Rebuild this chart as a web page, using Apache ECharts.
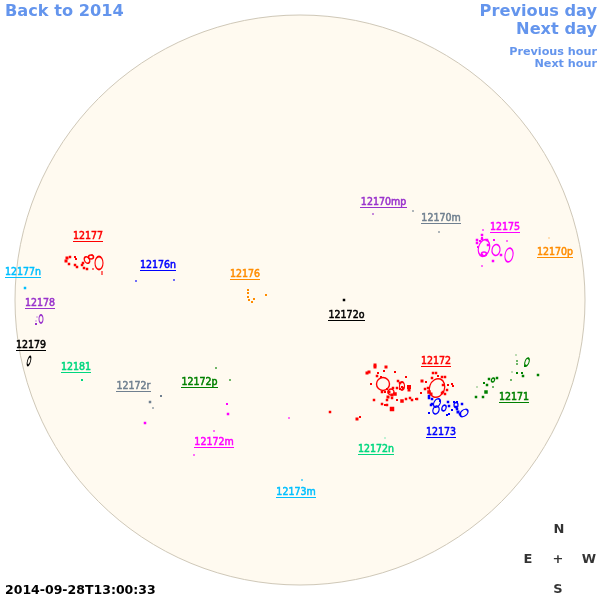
<!DOCTYPE html>
<html><head><meta charset="utf-8">
<style>html,body{margin:0;padding:0;background:#fff}#c{width:600px;height:600px}</style>
<script src="https://cdn.jsdelivr.net/npm/echarts@6/dist/echarts.min.js"></script>
</head><body><div id="c"></div>
<script>
// Active-region spots: [x, y, size]; loops: [x, y, width, height, angle]; labels: [name, left, right, underlineY]
const spots12172 = [[375,365,3],[375,367,3],[386,367,3],[384,371,2],[378,373,2],[367,373,3],[369,372,3],[377,376,2.5],[395,372,2],[406,377,2],[371,384,2],[381,377,2],[398,381,2.5],[400,383,2.5],[409,387,4],[409,390,3],[402,387,2],[393,388,2.5],[397,388,2.5],[400,389,2],[403,388,2.5],[387,389,2],[389,392,3],[382,392,2.5],[385,392,2],[395,394,3.5],[392,395,3],[388,397,3],[387,400,2.5],[392,398,2.5],[374,400,2.5],[397,400,2],[402,401,3.5],[406,399,2.5],[410,398,2.5],[412,400,2.5],[417,399,2.5],[382,404,2.5],[385,405,2],[387,405,2.5],[392,409,4.5],[357,419,3],[360,417,2],[330,412,2.5],[421,393,2],[433,373,2.5],[436,373,2.5],[438,376,2],[442,377,2.5],[445,377,2.5],[422,381,3],[426,382,2],[432,378,2.5],[443,385,2.5],[448,385,2],[452,384,2],[453,386,2],[428,388,2.5],[425,389,2.5],[429,392,3.5],[431,394,3],[443,392,2.5],[447,390,2.5],[442,393,2.5],[445,394,2.5],[416,399,2]];
const loops12172 = [[383,384,13,13,0],[437,388,15,19,-20],[391,392,6,6,0],[402,386,5,8,0]];
const spots12173 = [[429,398,2.5],[429,396,2.5],[432,399,2.5],[431,405,2.5],[429,413,2],[449,406,2.5],[449,414,2],[447,415,2],[454,402,2],[457,402,2],[462,404,2.5],[456,407,2.5],[457,409,2.5],[458,412,3],[460,414,2.5],[452,410,2],[440,401,2],[432,404,2.5],[448,402,2.5]];
const loops12173 = [[437,403,6,9,-30],[436,410,6,8,-20],[444,408,4,6,-20],[464,413,6,9,-50],[456,405,4,5,0]];
const spots12177 = [[66,261,3],[67,258,3],[70,257,2.5],[75,257,2],[76,259,2],[69,264,2.5],[75,265,2.5],[77,267,2.5],[83,263,2.5],[84,268,2.5],[82,265,2.5],[87,269,2.5],[92,255,1.5],[93,269,1.5],[102,272,1.5],[102,274,1.5]];
const loops12177 = [[99,263,8,13,0],[87,260,5,7,30],[91,257,5,4,0]];
const spots12177n = [[25,288,2.5]];
const spots12178 = [[36,324,2],[37,317,1],[36,321,1]];
const loops12178 = [[41,319,4,8,0]];
const loops12179 = [[29,361,3,9,-15]];
const spots12181 = [[82,380,2]];
const spots12175 = [[483,230,1.5],[482,235,2.5],[482,238,2],[487,240,2.5],[477,240,2.5],[477,243,2.5],[478,247,2],[482,239,2.5],[480,241,2],[494,240,2],[507,241,1.5],[488,245,2.5],[482,255,2.5],[493,261,2.5],[501,255,2.5],[482,266,1.5]];
const loops12175 = [[484,248,11,17,-15],[496,250,8,11,-10],[509,255,8,14,-10],[484,254,5,4,0]];
const spots12170p = [[549,238,1]];
const spots12176 = [[248,290,2],[248,293,2],[248,297,2],[249,300,2],[252,302,2],[254,299,2],[266,295,2]];
const spots12176n = [[136,281,1.5],[174,280,1.5]];
const spots12172o = [[344,300,2.5]];
const spots12170mp = [[373,214,1.5]];
const spots12170m = [[413,211,1.5],[439,232,1.5]];
const spots12171 = [[516,355,1],[517,361,1.5],[517,364,1.5],[525,366,2],[512,372,1],[517,373,2],[522,373,2],[523,376,2.5],[538,375,2.5],[511,380,1.5],[497,378,2.5],[489,379,2.5],[484,383,2],[487,385,2.5],[493,387,1.5],[477,387,1],[486,392,3.5],[483,397,2.5],[476,397,2.5]];
const loops12171 = [[527,362,4,8,-20],[493,380,3,4,-20]];
const spots12172r = [[161,396,2],[150,402,2.5],[153,408,1.5]];
const spots12172p = [[216,368,1.5],[230,380,1.5]];
const spots12172m = [[227,404,2],[228,414,2.5],[145,423,2.5],[214,431,1.5],[194,455,1.5],[289,418,1.5]];
const spots12173m = [[302,480,1.5]];
const spots12172n = [[385,438,1]];

const labelsRed = [['12172',421,451,366],['12177',73,103,241]];
const labelsBlue = [['12173',426,456,437],['12176n',140,176,270]];
const labelsGreen = [['12171',499,529,402],['12172p',181,218,387]];
const labelsMagenta = [['12175',490,520,232],['12172m',194,234,447]];
const labelsOrchid = [['12178',25,55,308],['12170mp',360,407,207]];
const labelsOrange = [['12170p',537,573,257],['12176',230,260,279]];
const labelsSlate = [['12170m',421,461,223],['12172r',116,151,391]];
const labelsSky = [['12177n',5,41,277],['12173m',276,316,497]];
const labelsSpring = [['12181',61,91,372],['12172n',358,394,454]];
const labelsBlack = [['12179',16,46,350],['12172o',328,365,320]];

const compass = [['N',559,530],['E',528,560],['+',558,560],['W',589,560],['S',558,590]];
const disk = [[300,300]];
const diskRadius = 285;
const link = '#6495ED';

const groups = [
  ['#FF0000', spots12172.concat(spots12177), loops12172.concat(loops12177), labelsRed],
  ['#0000FF', spots12173.concat(spots12176n), loops12173, labelsBlue],
  ['#008000', spots12171.concat(spots12172p), loops12171, labelsGreen],
  ['#FF00FF', spots12175.concat(spots12172m), loops12175, labelsMagenta],
  ['#9932CC', spots12178.concat(spots12170mp), loops12178, labelsOrchid],
  ['#FF8C00', spots12176.concat(spots12170p), [], labelsOrange],
  ['#708090', spots12172r.concat(spots12170m), [], labelsSlate],
  ['#00BFFF', spots12177n.concat(spots12173m), [], labelsSky],
  ['#00D77F', spots12181.concat(spots12172n), [], labelsSpring],
  ['#000000', spots12172o, loops12179, labelsBlack]
];

const series = [{
  type:'scatter', data:disk, symbol:'circle', symbolSize:diskRadius*2, silent:true, z:1,
  itemStyle:{color:'#FFFAF0',borderColor:'#CFC8B8',borderWidth:1,opacity:1}
}];
groups.forEach(([color,spots,loops,labels])=>{
  series.push({type:'scatter',data:spots,symbol:'rect',symbolSize:v=>v[2],z:3,silent:true,
    itemStyle:{color,opacity:1}});
  if(loops.length) series.push({type:'scatter',data:loops.map(l=>({value:l,symbolRotate:l[4]})),
    symbol:'circle',symbolSize:v=>[v[2],v[3]],z:3,silent:true,
    itemStyle:{color:'rgba(0,0,0,0)',borderColor:color,borderWidth:1.4,opacity:1}});
  series.push({type:'custom',z:4,silent:true,
    data:labels.map(l=>[l[1],l[3],l[2],l[0]]),
    encode:{x:[0,2],y:1},
    renderItem:(p,api)=>{
      const a=api.coord([api.value(0),api.value(1)]), b=api.coord([api.value(2),api.value(1)]);
      const cx=(a[0]+b[0])/2;
      return {type:'group',children:[
        {type:'text',x:cx,y:a[1]+0.5,scaleX:0.9,scaleY:1,
          style:{text:labels[p.dataIndex][0],x:0,y:0,align:'center',verticalAlign:'bottom',
          font:'normal 10.5px "DejaVu Sans"',fill:color,stroke:color,lineWidth:0.55}},
        {type:'rect',shape:{x:a[0],y:a[1],width:b[0]-a[0],height:1},style:{fill:color}}
      ]};
    }});
});
series.push({type:'scatter',data:compass.map(c=>({value:[c[1],c[2]],label:{formatter:c[0]}})),symbolSize:0,z:5,silent:true,
  label:{show:true,position:'inside',color:'#000',fontFamily:'DejaVu Sans',fontWeight:'bold',fontSize:13}});

const chart = echarts.init(document.getElementById('c'),null,{renderer:'canvas'});
const t=(text,pos,size,color)=>Object.assign({text,textStyle:{color:color||link,fontFamily:'DejaVu Sans',fontWeight:'bold',fontSize:size},padding:0},pos);
chart.setOption({
  animation:false,
  backgroundColor:'#fff',
  grid:{left:0,right:0,top:0,bottom:0},
  xAxis:{type:'value',min:0,max:600,show:false},
  yAxis:{type:'value',min:0,max:600,inverse:true,show:false},
  title:[
    t('Back to 2014',{left:5,top:4},16.2),
    t('Previous day',{right:3,top:4},16.2),
    t('Next day',{right:3,top:21.5},16.2),
    t('Previous hour',{right:3,top:47},11.2),
    t('Next hour',{right:3,top:59},11.2),
    t('2014-09-28T13:00:33',{left:5,top:584},12.5,'#000')
  ],
  series
});
</script></body></html>
